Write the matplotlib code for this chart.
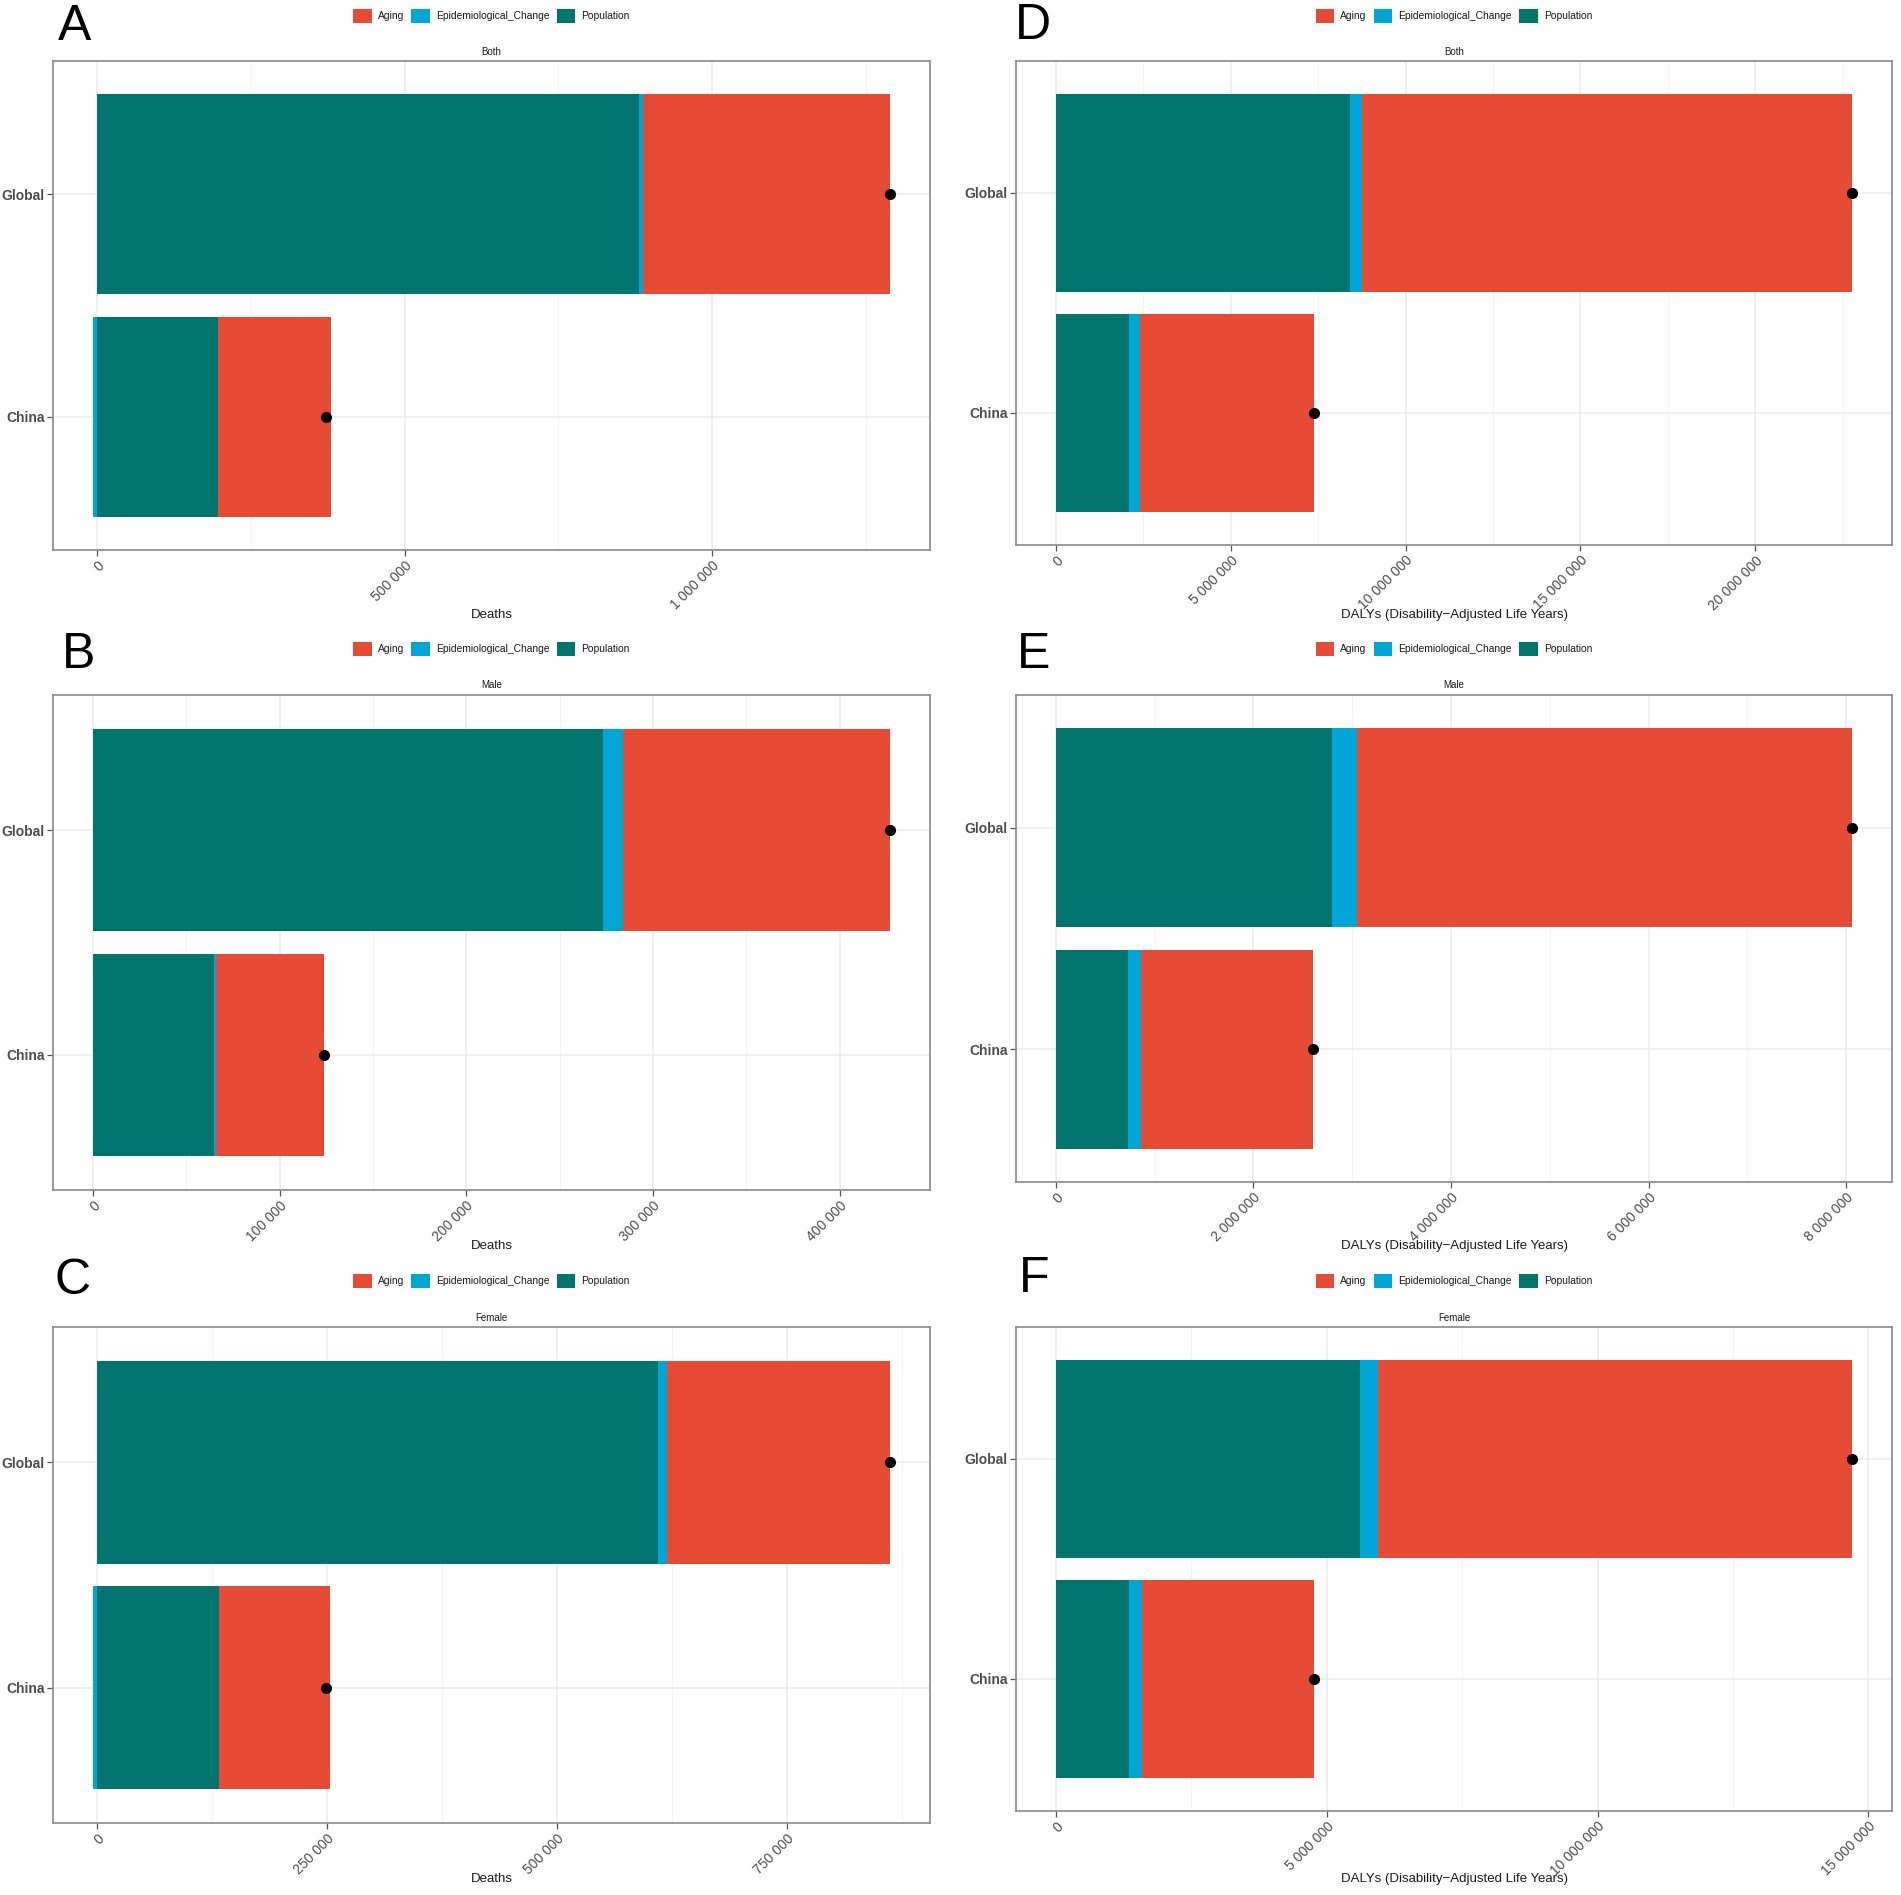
import matplotlib
matplotlib.use("Agg")
import matplotlib.pyplot as plt
from matplotlib import font_manager
from matplotlib.patches import Patch
from matplotlib.ticker import MultipleLocator, FuncFormatter

available = {f.name for f in font_manager.fontManager.ttflist}
FONT = "Liberation Sans Narrow" if "Liberation Sans Narrow" in available else "Liberation Sans"
NARROW = FONT == "Liberation Sans Narrow"
plt.rcParams['font.family'] = [FONT, 'DejaVu Sans']
S = 1.2 if NARROW else 1.0

# ---------------- data ----------------
regions = ["China", "Global"]
stack_order = ["Population", "Epidemiological_Change", "Aging"]
legend_order = ["Aging", "Epidemiological_Change", "Population"]
colors = {"Aging": "#E64B35", "Epidemiological_Change": "#00A6D6", "Population": "#00756F"}

deaths_both_pop = [196000, 881000]
deaths_both_epi = [-7000, 7000]
deaths_both_aging = [184000, 402000]

deaths_male_pop = [65000, 273000]
deaths_male_epi = [1000, 11000]
deaths_male_aging = [58000, 143000]

deaths_female_pop = [132500, 610000]
deaths_female_epi = [-4600, 9000]
deaths_female_aging = [121000, 243000]

dalys_both_pop = [2100000, 8420000]
dalys_both_epi = [310000, 330000]
dalys_both_aging = [4960000, 14020000]

dalys_male_pop = [730000, 2800000]
dalys_male_epi = [135000, 250000]
dalys_male_aging = [1735000, 5010000]

dalys_female_pop = [1360000, 5620000]
dalys_female_epi = [230000, 320000]
dalys_female_aging = [3180000, 8760000]

panel_letters = ["A", "B", "C", "D", "E", "F"]
panel_sexes = ["Both", "Male", "Female", "Both", "Male", "Female"]
panel_measures = ["Deaths", "Deaths", "Deaths",
                  "DALYs (Disability\u2212Adjusted Life Years)",
                  "DALYs (Disability\u2212Adjusted Life Years)",
                  "DALYs (Disability\u2212Adjusted Life Years)"]
panel_data = [
    (deaths_both_pop, deaths_both_epi, deaths_both_aging),
    (deaths_male_pop, deaths_male_epi, deaths_male_aging),
    (deaths_female_pop, deaths_female_epi, deaths_female_aging),
    (dalys_both_pop, dalys_both_epi, dalys_both_aging),
    (dalys_male_pop, dalys_male_epi, dalys_male_aging),
    (dalys_female_pop, dalys_female_epi, dalys_female_aging),
]
tick_steps = [500000, 100000, 250000, 5000000, 2000000, 5000000]

# ---------------- layout (pixels) ----------------
W, H = 1901, 1895
fig = plt.figure(figsize=(W / 100, H / 100), dpi=100)
fig.patch.set_facecolor("white")

col_x = [(53, 930), (1016, 1892)]
row_tops = [61, 695, 1327]
row_bottoms_left = [550, 1190, 1823]
row_bottoms_right = [545, 1182, 1811]
legend_y = [16, 649, 1281]
title_y = [52, 685, 1318]
xlabel_y = [615, 1246, 1879]
letter_pos = [(75, 27), (79, 655), (73, 1281), (1033, 26), (1034, 655), (1034, 1279)]

fmt = FuncFormatter(lambda v, p: f"{int(round(v)):,}".replace(",", " "))

for i in range(6):
    col = i // 3
    row = i % 3
    x0, x1 = col_x[col]
    top = row_tops[row]
    bottom = row_bottoms_left[row] if col == 0 else row_bottoms_right[row]
    ax = fig.add_axes([x0 / W, 1 - bottom / H, (x1 - x0) / W, (bottom - top) / H])

    pop, epi, aging = panel_data[i]
    series = {"Population": pop, "Epidemiological_Change": epi, "Aging": aging}
    ypos = list(range(len(regions)))
    pos_left = [0.0] * len(regions)
    neg_left = [0.0] * len(regions)
    for comp in stack_order:
        vals = series[comp]
        for j, v in enumerate(vals):
            if v >= 0:
                ax.barh(ypos[j], v, left=pos_left[j], height=0.9,
                        color=colors[comp], linewidth=0, zorder=2)
                pos_left[j] += v
            else:
                ax.barh(ypos[j], v, left=neg_left[j], height=0.9,
                        color=colors[comp], linewidth=0, zorder=2)
                neg_left[j] += v
    totals = [pop[j] + epi[j] + aging[j] for j in range(len(regions))]
    ax.plot(totals, ypos, "o", color="black", ms=7, zorder=3)

    lo = min(0.0, min(neg_left))
    hi = max(pos_left)
    pad = 0.05 * (hi - lo)
    ax.set_xlim(lo - pad, hi + pad)
    ax.set_ylim(-0.6, 1.6)

    ax.xaxis.set_major_locator(MultipleLocator(tick_steps[i]))
    ax.xaxis.set_minor_locator(MultipleLocator(tick_steps[i] / 2))
    ax.xaxis.set_major_formatter(fmt)
    ax.set_yticks(ypos)
    ax.set_yticklabels(regions, fontsize=10 * S, fontweight="bold", color="#4D4D4D")

    ax.set_axisbelow(True)
    ax.grid(True, which="major", axis="both", color="#EBEBEB", lw=1.1, zorder=0)
    ax.grid(True, which="minor", axis="x", color="#F4F4F4", lw=0.7, zorder=0)
    ax.tick_params(axis="x", which="major", length=4, width=0.9, color="#555555",
                   labelsize=10 * S, labelcolor="#4D4D4D", pad=2)
    ax.tick_params(axis="x", which="minor", length=0)
    ax.tick_params(axis="y", length=4, width=0.9, color="#555555", pad=2)
    for lab in ax.get_xticklabels():
        lab.set_rotation(45)
        lab.set_ha("right")
        lab.set_va("top")
        lab.set_rotation_mode("anchor")
    for sp in ax.spines.values():
        sp.set_color("#8A8A8A")
        sp.set_linewidth(1.2)

    cx = (x0 + x1) / 2 / W
    fig.text(cx, 1 - title_y[row] / H, panel_sexes[i], ha="center", va="center",
             fontsize=7 * S, color="#1A1A1A")
    fig.text(cx, 1 - xlabel_y[row] / H, panel_measures[i], ha="center", va="center",
             fontsize=9.5 * S, color="#1A1A1A")
    lx, ly = letter_pos[i]
    fig.text(lx / W, 1 - ly / H, panel_letters[i], ha="center", va="center",
             fontsize=36, color="black")

    handles = [Patch(facecolor=colors[c], edgecolor="none", label=c) for c in legend_order]
    fig.legend(handles=handles, loc="center", bbox_to_anchor=(cx, 1 - legend_y[row] / H),
               ncol=3, frameon=False, fontsize=7.4 * S, handlelength=1.8, handleheight=1.8,
               handletextpad=0.6, columnspacing=0.7, borderpad=0, labelcolor="#1A1A1A")

fig.savefig("out.png", dpi=100, facecolor="white")
